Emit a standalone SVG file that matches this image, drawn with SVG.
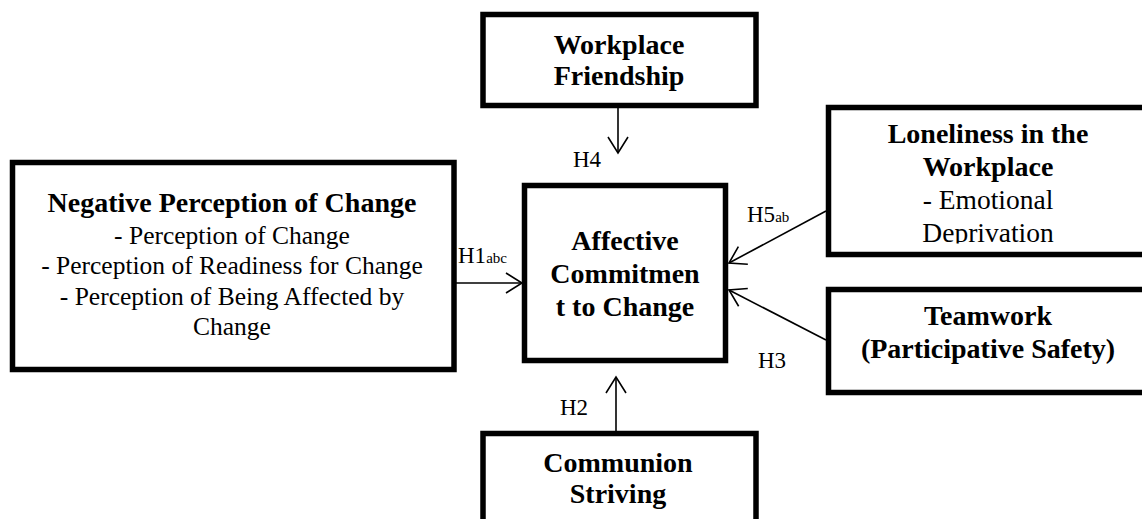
<svg xmlns="http://www.w3.org/2000/svg" width="1142" height="519" viewBox="0 0 1142 519">
<style>
.box{fill:#fff;stroke:#000;stroke-width:5.5;}
.t{font-family:"Liberation Serif","Times New Roman",serif;fill:#000;text-anchor:middle;}
.b{font-weight:bold;font-size:28px;}
.r{font-size:25.5px;}
.r2{font-size:27.5px;}
.lab{font-family:"Liberation Serif","Times New Roman",serif;font-size:23px;fill:#000;}
.sub{font-size:15px;}
.con{stroke:#000;stroke-width:1.6;fill:none;marker-end:url(#arr);}
</style>
<defs>
<marker id="arr" markerUnits="userSpaceOnUse" markerWidth="40" markerHeight="40" viewBox="-20 -20 40 40" refX="0" refY="0" orient="auto">
<path d="M-16,-10 L0,0 L-16,10" fill="none" stroke="#000" stroke-width="1.6"/>
</marker>
<clipPath id="clipDep"><rect x="830" y="100" width="320" height="143.5"/></clipPath>
</defs>
<rect width="1142" height="519" fill="#fff"/>
<g id="connectors">
<line class="con" x1="618" y1="108" x2="618" y2="153"/>
<line class="con" x1="455" y1="283" x2="522" y2="283"/>
<line class="con" x1="826" y1="211" x2="729" y2="263"/>
<line class="con" x1="826" y1="340" x2="729" y2="290"/>
<line class="con" x1="616" y1="432" x2="616" y2="377"/>
<text class="lab" x="573" y="167">H4</text>
<text class="lab" x="458" y="263">H1<tspan class="sub">abc</tspan></text>
<text class="lab" x="747" y="222">H5<tspan class="sub">ab</tspan></text>
<text class="lab" x="758" y="368">H3</text>
<text class="lab" x="560" y="415">H2</text>
</g>
<g id="workplace-friendship">
<rect class="box" x="483" y="14.5" width="273" height="91"/>
<text class="t b" x="619" y="54">Workplace</text>
<text class="t b" x="619" y="85">Friendship</text>
</g>
<g id="negative-perception">
<rect class="box" x="12.5" y="162.5" width="441.5" height="207"/>
<text class="t b" x="232" y="212">Negative Perception of Change</text>
<text class="t r" x="232" y="243.5">- Perception of Change</text>
<text class="t r" x="232" y="274">- Perception of Readiness for Change</text>
<text class="t r" x="232" y="304.5">- Perception of Being Affected by</text>
<text class="t r" x="232" y="335">Change</text>
</g>
<g id="affective-commitment">
<rect class="box" x="524.5" y="185.5" width="201" height="175"/>
<text class="t b" x="625" y="250">Affective</text>
<text class="t b" x="625" y="283">Commitmen</text>
<text class="t b" x="625" y="316">t to Change</text>
</g>
<g id="loneliness">
<rect class="box" x="828.5" y="107.5" width="400" height="147"/>
<text class="t b" x="988" y="143">Loneliness in the</text>
<text class="t b" x="988" y="176">Workplace</text>
<text class="t r2" x="988" y="209">- Emotional</text>
<text class="t r2" x="988" y="242" clip-path="url(#clipDep)">Deprivation</text>
</g>
<g id="teamwork">
<rect class="box" x="828.5" y="289.5" width="400" height="103"/>
<text class="t b" x="988" y="325">Teamwork</text>
<text class="t b" x="988" y="358">(Participative Safety)</text>
</g>
<g id="communion-striving">
<rect class="box" x="483" y="433.5" width="273" height="120"/>
<text class="t b" x="618" y="472">Communion</text>
<text class="t b" x="618" y="503">Striving</text>
</g>
</svg>
